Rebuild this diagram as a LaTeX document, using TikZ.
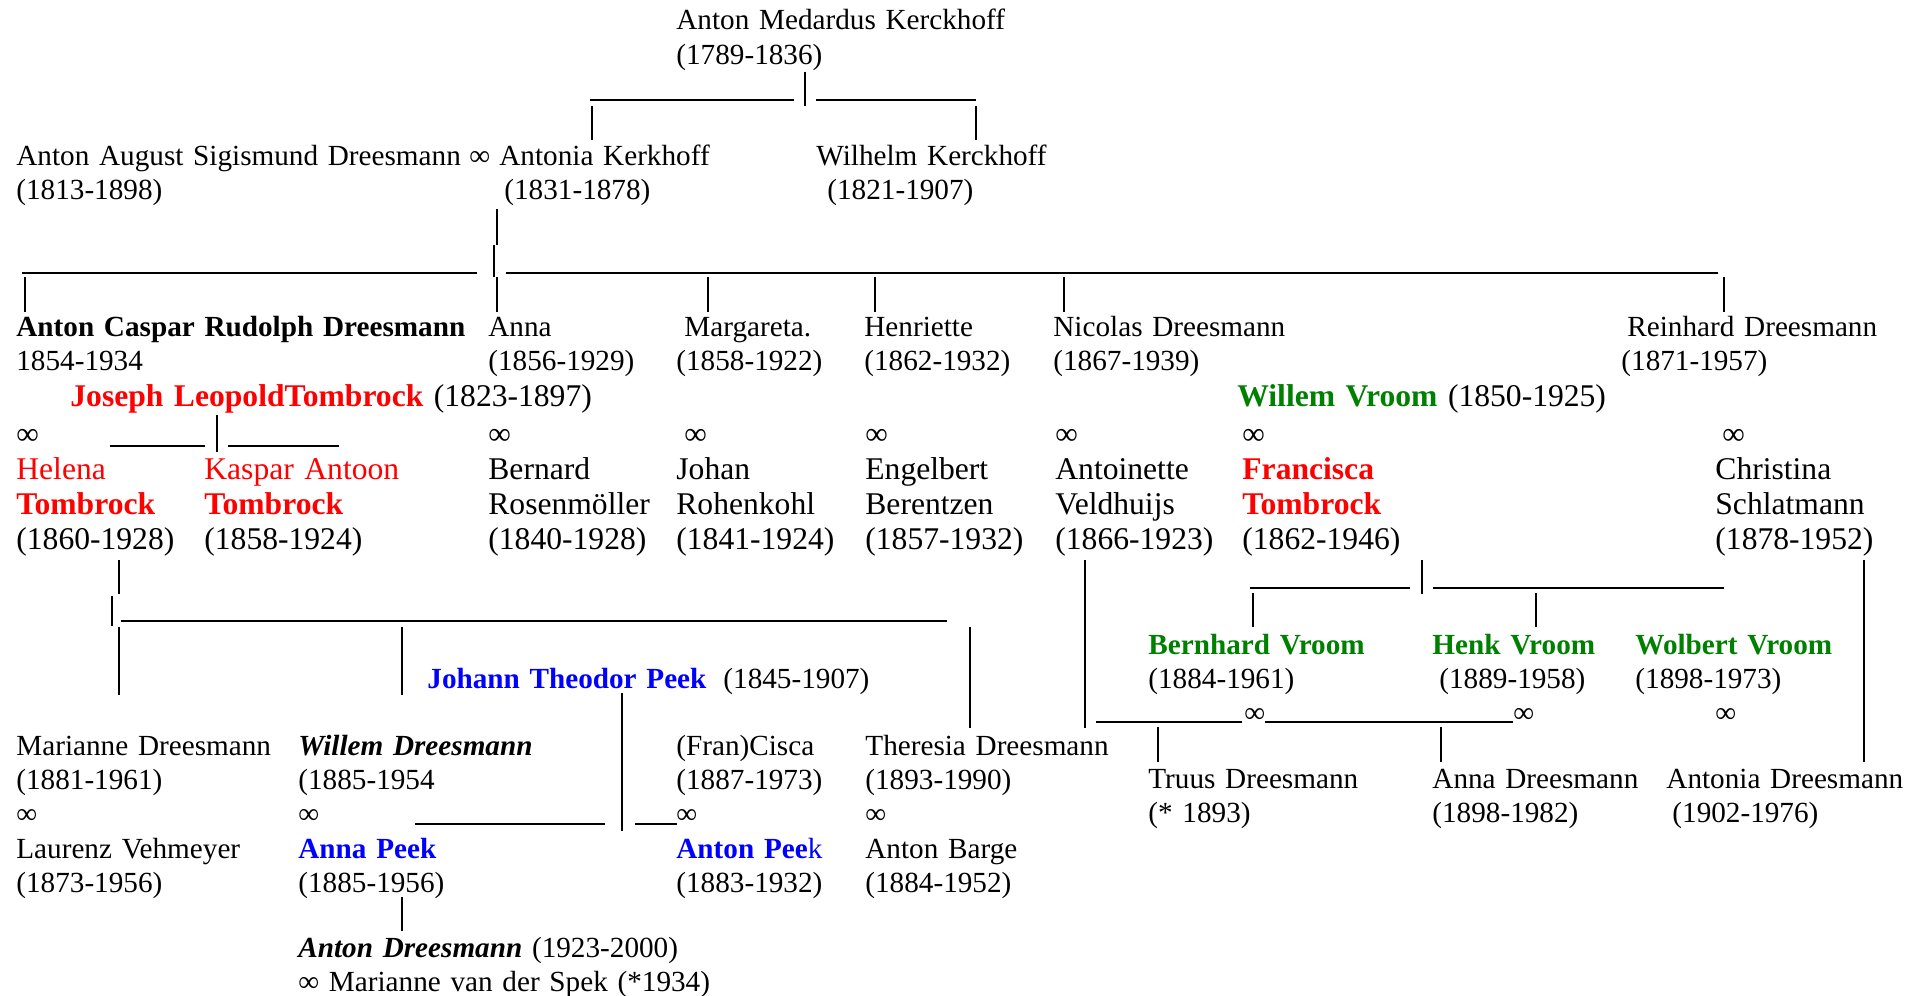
\documentclass[tikz,border=0pt]{standalone}
\usepackage{fontspec}
\setmainfont{Liberation Serif}

\definecolor{tombred}{RGB}{255,0,0}
\definecolor{vroomgreen}{RGB}{0,128,0}
\definecolor{peekblue}{RGB}{0,0,255}

\tikzset{
  person/.style={anchor=base west, inner sep=0pt, text width=300pt, align=left,
    font=\fontsize{14.6}{17.2}\selectfont},
  spouse/.style={person, font=\fontsize{15.8}{17.6}\selectfont},
  bar/.style={line width=1pt},
  rule/.style={line width=0.8pt}
}

\begin{document}
\begin{tikzpicture}[x=0.5pt, y=-0.5pt]
  \useasboundingbox (0,0) rectangle (1915,995);

  % Kerckhoff
  \node[person] (amk) at (676,30) {Anton Medardus Kerckhoff\\(1789-1836)};
  \node[person] (aasd) at (16,165) {Anton August Sigismund Dreesmann\\(1813-1898)};
  \node[person] (wed1) at (469,165) {∞};
  \node[person] (ak) at (499,165) {Antonia Kerkhoff\\\hspace*{2.5pt}(1831-1878)};
  \node[person] (wk) at (816,165) {Wilhelm Kerckhoff\\\hspace*{5.5pt}(1821-1907)};

  % children of Anton August
  \node[person] (acrd) at (16,336.5) {\textbf{Anton Caspar Rudolph Dreesmann}\\1854-1934};
  \node[person] (anna) at (488,336.5) {Anna\\(1856-1929)};
  \node[person] (marg) at (676,336.5) {\hspace*{4pt}Margareta.\\(1858-1922)};
  \node[person] (henr) at (864,336.5) {Henriette\\(1862-1932)};
  \node[person] (nico) at (1053,336.5) {Nicolas Dreesmann\\(1867-1939)};
  \node[person] (rein) at (1621,336.5) {\hspace*{3pt}Reinhard Dreesmann\\(1871-1957)};

  \node[spouse] (jlt) at (70,406) {\textcolor{tombred}{\bfseries Joseph LeopoldTombrock} (1823-1897)};
  \node[spouse] (wvr) at (1237,406) {\textcolor{vroomgreen}{\bfseries Willem Vroom} (1850-1925)};

  % spouses
  \node[spouse] (hel) at (16,444) {∞\\\textcolor{tombred}{Helena}\\\textcolor{tombred}{\bfseries Tombrock}\\(1860-1928)};
  \node[spouse] (kat) at (204,479.2) {\textcolor{tombred}{Kaspar Antoon}\\\textcolor{tombred}{\bfseries Tombrock}\\(1858-1924)};
  \node[spouse] (bern) at (488,444) {∞\\Bernard\\Rosenmöller\\(1840-1928)};
  \node[spouse] (joh) at (676,444) {\hspace*{4pt}∞\\Johan\\Rohenkohl\\(1841-1924)};
  \node[spouse] (eng) at (865,444) {∞\\Engelbert\\Berentzen\\(1857-1932)};
  \node[spouse] (ant) at (1055,444) {∞\\Antoinette\\Veldhuijs\\(1866-1923)};
  \node[spouse] (fra) at (1242,444) {∞\\\textcolor{tombred}{\bfseries Francisca}\\\textcolor{tombred}{\bfseries Tombrock}\\(1862-1946)};
  \node[spouse] (chr) at (1715,444) {\hspace*{3.5pt}∞\\Christina\\Schlatmann\\(1878-1952)};

  % Vroom
  \node[person] (bvr) at (1148,654) {\textcolor{vroomgreen}{\bfseries Bernhard Vroom}\\(1884-1961)};
  \node[person] (hvr) at (1432,654) {\textcolor{vroomgreen}{\bfseries Henk Vroom}\\\hspace*{3.5pt}(1889-1958)};
  \node[person] (wovr) at (1635,654) {\textcolor{vroomgreen}{\bfseries Wolbert Vroom}\\(1898-1973)};
  \node[person] (wed2) at (1244,722) {∞};
  \node[person] (wed3) at (1513,722) {∞};
  \node[person] (wed4) at (1715,722) {∞};
  \node[person] (tru) at (1148,788) {Truus Dreesmann\\(* 1893)};
  \node[person] (annd) at (1432,788) {Anna Dreesmann\\(1898-1982)};
  \node[person] (antd) at (1666,788) {Antonia Dreesmann\\\hspace*{3pt}(1902-1976)};

  % Peek
  \node[person] (jtp) at (427,688) {\textcolor{peekblue}{\bfseries Johann Theodor Peek}\hspace{8.5pt}(1845-1907)};

  % children of Anton Caspar
  \node[person] (mar) at (16,755) {Marianne Dreesmann\\(1881-1961)\\∞\\Laurenz Vehmeyer\\(1873-1956)};
  \node[person] (wil) at (298,755) {\textbf{\textit{Willem Dreesmann}}\\(1885-1954\\∞\\\textcolor{peekblue}{\bfseries Anna Peek}\\(1885-1956)};
  \node[person] (cis) at (676,755) {(Fran)Cisca\\(1887-1973)\\∞\\\textcolor{peekblue}{\bfseries Anton Pee}\textcolor{peekblue}{k}\\(1883-1932)};
  \node[person] (the) at (865,755) {Theresia Dreesmann\\(1893-1990)\\∞\\Anton Barge\\(1884-1952)};
  \node[person] (adr) at (298,957) {\textbf{\textit{Anton Dreesmann}} (1923-2000)\\∞ Marianne van der Spek (*1934)};

  % bar ends
  \coordinate (amk-s1) at (805,72);   \coordinate (amk-s2) at (805,106);
  \coordinate (ak-s1) at (592,106);   \coordinate (ak-s2) at (592,140);
  \coordinate (wk-s1) at (976,106);   \coordinate (wk-s2) at (976,140);
  \coordinate (kh-l1) at (590,100);   \coordinate (kh-l2) at (794,100);
  \coordinate (kh-r1) at (816,100);   \coordinate (kh-r2) at (976,100);

  \coordinate (ad-s1) at (497,209);   \coordinate (ad-s2) at (497,245);
  \coordinate (ad-s3) at (494,245);   \coordinate (ad-s4) at (494,277);
  \coordinate (ad-l1) at (22,273);    \coordinate (ad-l2) at (477,273);
  \coordinate (ad-r1) at (506,273);   \coordinate (ad-r2) at (1718,273);
  \coordinate (anna-s1) at (497,277); \coordinate (anna-s2) at (497,312);
  \coordinate (acrd-s1) at (25,277);  \coordinate (acrd-s2) at (25,312);
  \coordinate (marg-s1) at (708,277); \coordinate (marg-s2) at (708,312);
  \coordinate (henr-s1) at (875,277); \coordinate (henr-s2) at (875,312);
  \coordinate (nico-s1) at (1064,277); \coordinate (nico-s2) at (1064,312);
  \coordinate (rein-s1) at (1724,277); \coordinate (rein-s2) at (1724,312);

  \coordinate (jlt-s1) at (217,415);  \coordinate (jlt-s2) at (217,452);
  \coordinate (jlt-l1) at (110,446);  \coordinate (jlt-l2) at (205,446);
  \coordinate (jlt-r1) at (228,446);  \coordinate (jlt-r2) at (339,446);

  \coordinate (hel-s1) at (119,560);  \coordinate (hel-s2) at (119,594);
  \coordinate (hel-s3) at (112,596);  \coordinate (hel-s4) at (112,626);
  \coordinate (hel-r1) at (121,621);  \coordinate (hel-r2) at (947,621);
  \coordinate (mar-s1) at (119,627);  \coordinate (mar-s2) at (119,695);
  \coordinate (wil-s1) at (402,627);  \coordinate (wil-s2) at (402,695);
  \coordinate (the-s1) at (970,627);  \coordinate (the-s2) at (970,728);

  \coordinate (jtp-s1) at (622,693);  \coordinate (jtp-s2) at (622,831);
  \coordinate (jtp-l1) at (415,824);  \coordinate (jtp-l2) at (605,824);
  \coordinate (jtp-r1) at (635,824);  \coordinate (jtp-r2) at (677,824);
  \coordinate (adr-s1) at (402,897);  \coordinate (adr-s2) at (402,931);

  \coordinate (fra-s1) at (1422,560); \coordinate (fra-s2) at (1422,594);
  \coordinate (fra-l1) at (1250,588); \coordinate (fra-l2) at (1410,588);
  \coordinate (fra-r1) at (1433,588); \coordinate (fra-r2) at (1724,588);
  \coordinate (bvr-s1) at (1253,593); \coordinate (bvr-s2) at (1253,627);
  \coordinate (hvr-s1) at (1536,593); \coordinate (hvr-s2) at (1536,627);

  \coordinate (ant-s1) at (1085,560); \coordinate (ant-s2) at (1085,728);
  \coordinate (chr-s1) at (1864,560); \coordinate (chr-s2) at (1864,762);
  \coordinate (nv-l1) at (1096,722);  \coordinate (nv-l2) at (1242,722);
  \coordinate (nv-r1) at (1265,722);  \coordinate (nv-r2) at (1513,722);
  \coordinate (tru-s1) at (1158,727); \coordinate (tru-s2) at (1158,762);
  \coordinate (annd-s1) at (1441,727); \coordinate (annd-s2) at (1441,762);

  % vertical bars
  \foreach \a/\b in {amk-s1/amk-s2, ak-s1/ak-s2, wk-s1/wk-s2, ad-s1/ad-s2, ad-s3/ad-s4,
      anna-s1/anna-s2, acrd-s1/acrd-s2, marg-s1/marg-s2, henr-s1/henr-s2, nico-s1/nico-s2,
      rein-s1/rein-s2, jlt-s1/jlt-s2, hel-s1/hel-s2, hel-s3/hel-s4, mar-s1/mar-s2,
      wil-s1/wil-s2, the-s1/the-s2, jtp-s1/jtp-s2, adr-s1/adr-s2, fra-s1/fra-s2,
      bvr-s1/bvr-s2, hvr-s1/hvr-s2, ant-s1/ant-s2, chr-s1/chr-s2, tru-s1/tru-s2,
      annd-s1/annd-s2}
    \draw[bar] (\a) -- (\b);

  % underscore rules
  \foreach \a/\b in {kh-l1/kh-l2, kh-r1/kh-r2, ad-l1/ad-l2, ad-r1/ad-r2, jlt-l1/jlt-l2,
      jlt-r1/jlt-r2, hel-r1/hel-r2, jtp-l1/jtp-l2, jtp-r1/jtp-r2, fra-l1/fra-l2,
      fra-r1/fra-r2, nv-l1/nv-l2, nv-r1/nv-r2}
    \draw[rule] (\a) -- (\b);
\end{tikzpicture}
\end{document}
